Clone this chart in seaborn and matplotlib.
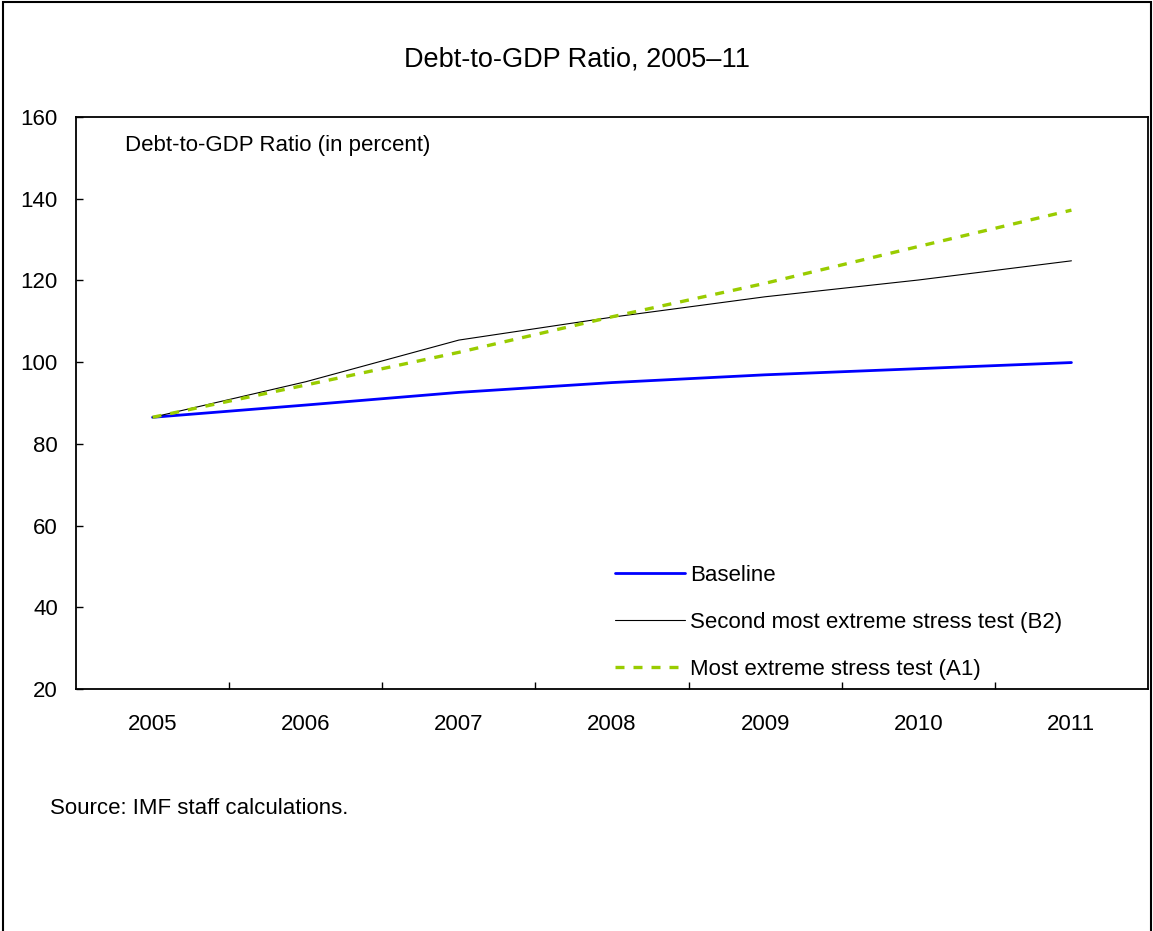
import pandas as pd
import matplotlib.pyplot as plt
import seaborn as sns
from matplotlib.patches import Rectangle

# Values
years = [2005, 2006, 2007, 2008, 2009, 2010, 2011]
baseline = [86.5, 89.5, 92.6, 95.0, 96.9, 98.4, 99.9]
stress_b2 = [86.5, 95.2, 105.4, 111.0, 116.0, 120.1, 124.8]
stress_a1 = [86.5, 94.4, 102.4, 111.1, 119.3, 128.3, 137.2]

series_names = ["Baseline",
                "Second most extreme stress test (B2)",
                "Most extreme stress test (A1)"]

data = pd.DataFrame({
    "Year": years * 3,
    "Ratio": baseline + stress_b2 + stress_a1,
    "Series": [series_names[0]] * 7 + [series_names[1]] * 7 + [series_names[2]] * 7,
})

sns.set_style("white")
plt.rcParams['font.family'] = ['Liberation Sans', 'DejaVu Sans']
for key in ["text.color", "axes.labelcolor", "xtick.color", "ytick.color"]:
    plt.rcParams[key] = "black"

fig = plt.figure(figsize=(11.53, 9.31), dpi=100)
ax = fig.add_axes([76 / 1153, 1 - 689 / 931, 1072 / 1153, 572 / 931])

palette = {series_names[0]: "#0000FF", series_names[1]: "#000000", series_names[2]: "#99CC00"}
dashes = {series_names[0]: "", series_names[1]: "", series_names[2]: (2.7, 2.7)}
sns.lineplot(data=data, x="Year", y="Ratio", hue="Series", style="Series",
             palette=palette, dashes=dashes, ax=ax, legend=True)

widths = [2.0, 0.8, 2.4]
for line, lw in zip(ax.get_lines()[:3], widths):
    line.set_linewidth(lw)

ax.set_xlim(2004.5, 2011.5)
ax.set_ylim(20, 160)
ax.set_yticks(range(20, 161, 20))
ax.set_xticks(years)
ax.set_xticks([y + 0.5 for y in years[:-1]], minor=True)
ax.tick_params(axis="x", which="major", length=0, pad=18, labelsize=16)
ax.tick_params(axis="x", which="minor", length=5, direction="in", width=1, bottom=True)
ax.tick_params(axis="y", length=5, direction="in", width=1, left=True, labelsize=16, pad=13)
ax.set_xlabel("")
ax.set_ylabel("")
for spine in ax.spines.values():
    spine.set_color("black")
    spine.set_linewidth(1.3)

ax.text(0.046, 0.951, "Debt-to-GDP Ratio (in percent)", transform=ax.transAxes,
        fontsize=16, va="center", ha="left")

leg = ax.legend(loc="lower left", bbox_to_anchor=(0.4944, 0.0), frameon=False,
                fontsize=16, handlelength=3.15, handletextpad=0.22, labelspacing=1.17,
                borderaxespad=0)
for h, lw in zip(leg.get_lines(), widths):
    h.set_linewidth(lw)

fig.text(0.5, 1 - 60 / 931, "Debt-to-GDP Ratio, 2005\u201311", ha="center", va="center", fontsize=19.5)
fig.text(50 / 1153, 1 - 808 / 931, "Source: IMF staff calculations.", ha="left", va="center", fontsize=16)

# Outer frame of the exhibit
fig.patches.append(Rectangle((3 / 1153, -0.05), 1148 / 1153, 1.05 - 2 / 931,
                             transform=fig.transFigure, fill=False, edgecolor="black", linewidth=1.5))

plt.savefig("out.png", dpi=100)
plt.close()
